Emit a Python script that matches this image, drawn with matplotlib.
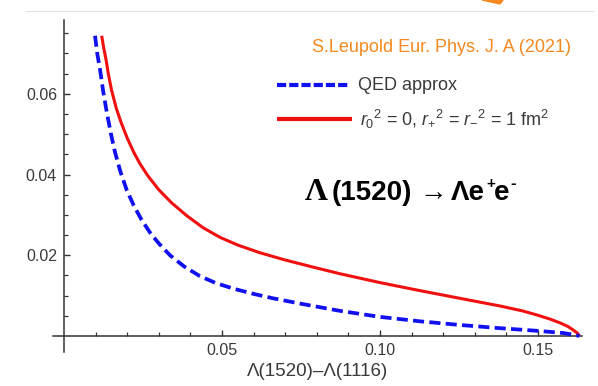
import matplotlib
matplotlib.use("Agg")
import matplotlib.pyplot as plt
from matplotlib.lines import Line2D
from matplotlib.patches import Polygon

plt.rcParams["font.family"] = ["Liberation Sans", "DejaVu Sans"]
plt.rcParams["mathtext.fontset"] = "custom"
plt.rcParams["mathtext.rm"] = "Liberation Sans"
plt.rcParams["mathtext.it"] = "Liberation Sans:italic"
plt.rcParams["mathtext.bf"] = "Liberation Sans:bold"
plt.rcParams["lines.scale_dashes"] = False

# Differential rate vs. invariant-mass variable for Λ(1520) → Λ e+ e-
x_form = [0.0119, 0.0125, 0.0133, 0.0140, 0.0150, 0.0165, 0.0180, 0.0200,
          0.0220, 0.0240, 0.0265, 0.0300, 0.0340, 0.0388, 0.0440, 0.0494,
          0.0550, 0.0620, 0.0700, 0.0780, 0.0873, 0.1000, 0.1127, 0.1253,
          0.1380, 0.1450, 0.1500, 0.1540, 0.1570, 0.1595, 0.1612, 0.1624,
          0.1631]
y_form = [0.0744, 0.0716, 0.0684, 0.0650, 0.0610, 0.0565, 0.0530, 0.0490,
          0.0456, 0.0427, 0.0397, 0.0362, 0.0330, 0.0298, 0.0268, 0.0244,
          0.0225, 0.0206, 0.0188, 0.0172, 0.0154, 0.0132, 0.0112, 0.0093,
          0.0074, 0.0062, 0.0051, 0.0041, 0.0032, 0.0023, 0.0014, 0.0007,
          0.0000]

x_qed = [0.0098, 0.0105, 0.0114, 0.0124, 0.0135, 0.0148, 0.0161, 0.0178,
         0.0198, 0.0220, 0.0245, 0.0272, 0.0300, 0.0335, 0.0380, 0.0430,
         0.0480, 0.0536, 0.0600, 0.0662, 0.0747, 0.0810, 0.0873, 0.1000,
         0.1127, 0.1253, 0.1380, 0.1506, 0.1580, 0.1631]
y_qed = [0.0744, 0.0700, 0.0659, 0.0605, 0.0555, 0.0502, 0.0456, 0.0408,
         0.0362, 0.0324, 0.0288, 0.0256, 0.0229, 0.0200, 0.0172, 0.0148,
         0.0131, 0.0117, 0.0104, 0.0093, 0.0080, 0.0071, 0.0062, 0.0047,
         0.0036, 0.0027, 0.0019, 0.0012, 0.0007, 0.0000]

x_major = [0.05, 0.10, 0.15]
x_major_labels = ["0.05", "0.10", "0.15"]
y_major = [0.02, 0.04, 0.06]
y_major_labels = ["0.02", "0.04", "0.06"]
x_minor = [0.01, 0.02, 0.03, 0.04, 0.06, 0.07, 0.08, 0.09, 0.11, 0.12,
           0.13, 0.14, 0.16]
y_minor = [0.005, 0.01, 0.015, 0.025, 0.03, 0.035, 0.045, 0.05, 0.055,
           0.065, 0.07, 0.075]

label_qed = "QED approx"
label_form = r"$r_{0}{}^2$ = 0, $r_{+}{}^2$ = $r_{-}{}^2$ = 1 fm$^2$"
citation = "S.Leupold Eur. Phys. J. A (2021)"
xlabel = "Λ(1520)–Λ(1116)"

W, H = 598, 386
fig = plt.figure(figsize=(W / 100, H / 100), dpi=100)


def fx(px):
    return px / W


def fy(py):
    return 1 - py / H


ax = fig.add_axes([fx(53), fy(352), fx(581.7) - fx(53), fy(20) - fy(352)])
ax.set_xlim(-0.0035, 0.1638)
ax.set_ylim(-0.004, 0.0783)

red = "#F01010"
blue = "#1010F0"
ax.plot(x_form, y_form, color=red, lw=2.2, solid_capstyle="butt",
        solid_joinstyle="round", zorder=3)
ax.plot(x_qed, y_qed, color=blue, lw=2.7, ls=(0, (8.0, 3.8)),
        dash_capstyle="butt", zorder=3)

axis_col = "#333333"
for s in ("top", "right"):
    ax.spines[s].set_visible(False)
ax.spines["left"].set_position(("data", 0))
ax.spines["bottom"].set_position(("data", 0))
for s in ("left", "bottom"):
    ax.spines[s].set_color(axis_col)
    ax.spines[s].set_linewidth(1.1)

ax.set_xticks(x_major)
ax.set_xticklabels(x_major_labels)
ax.set_yticks(y_major)
ax.set_yticklabels(y_major_labels)
ax.set_xticks(x_minor, minor=True)
ax.set_yticks(y_minor, minor=True)
ax.tick_params(which="major", direction="in", length=4.5, width=1.0,
               color=axis_col, labelsize=11.5, labelcolor="#3a3a3a")
ax.tick_params(which="minor", direction="in", length=2.6, width=0.9,
               color=axis_col)
ax.tick_params(axis="x", which="major", pad=5)
ax.tick_params(axis="y", which="major", pad=5)

fig.text(fx(317.5), fy(372), xlabel, ha="center", va="center",
         fontsize=13.5, color="#3a3a3a")

# legend drawn by hand in figure pixels
fig.add_artist(Line2D([fx(276.7), fx(348.3)], [fy(85.3), fy(85.3)],
                      color=blue, lw=3.0, ls=(0, (6.6, 2.2)),
                      dash_capstyle="butt", transform=fig.transFigure))
fig.add_artist(Line2D([fx(276.7), fx(351.7)], [fy(119.3), fy(119.3)],
                      color=red, lw=3.0, solid_capstyle="butt",
                      transform=fig.transFigure))
fig.text(fx(358.5), fy(85.3), label_qed, ha="left", va="center",
         fontsize=13, color="#3a3a3a")
fig.text(fx(360), fy(119.3), label_form, ha="left", va="center",
         fontsize=13, color="#3a3a3a")

fig.text(fx(312), fy(47), citation, ha="left", va="center",
         fontsize=13, color="#F5891F")

# reaction label
fig.text(fx(304.5), fy(193), "Λ", ha="left", va="center", fontsize=23,
         fontweight="bold", family=["Liberation Serif", "DejaVu Serif"])
fig.text(fx(332), fy(193), "(1520)", ha="left", va="center", fontsize=20,
         fontweight="bold")
fig.text(fx(419), fy(193), "→", ha="left", va="center", fontsize=20,
         fontweight="bold")
fig.text(fx(451), fy(193), "Λe", ha="left", va="center", fontsize=20,
         fontweight="bold")
fig.text(fx(486), fy(184), "+", ha="left", va="center", fontsize=11,
         fontweight="bold")
fig.text(fx(494), fy(193), "e", ha="left", va="center", fontsize=20,
         fontweight="bold")
fig.text(fx(510), fy(184), "-", ha="left", va="center", fontsize=12,
         fontweight="bold")

# slide header rule and arrow tip at the top edge
fig.add_artist(Line2D([fx(26), fx(593)], [fy(10.5), fy(10.5)],
                      color="#e2e2e2", lw=0.8, transform=fig.transFigure))
fig.add_artist(Polygon([[fx(482), fy(0)], [fx(503), fy(0)], [fx(500), fy(4)]],
                       closed=True, color="#F5891F",
                       transform=fig.transFigure))

fig.savefig("out.png", dpi=100)
